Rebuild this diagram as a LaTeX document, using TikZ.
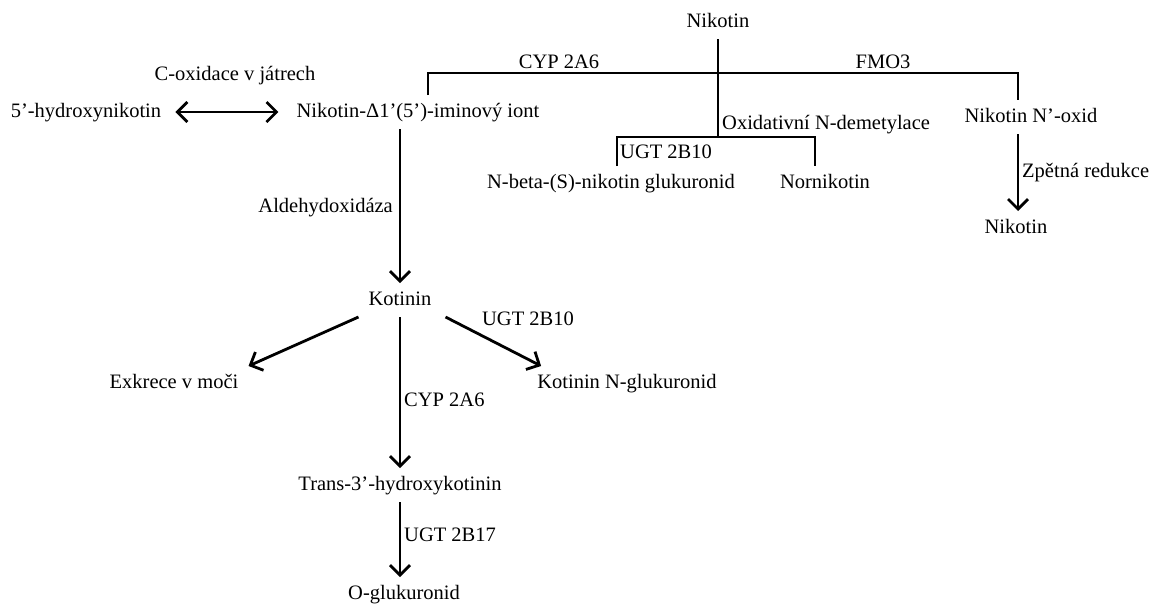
\documentclass[tikz,border=0pt]{standalone}
\usepackage{fontspec}
\setmainfont{Liberation Serif}
\usetikzlibrary{arrows.meta}
\tikzset{
  met node/.style={
    inner sep=2pt,text height=14pt,text depth=4pt,outer ysep=6pt,
    font=\fontsize{20.5}{24}\selectfont
  },
  met label/.style={inner sep=1pt,font=\fontsize{20.5}{24}\selectfont},
  met line/.style={black,line width=2.8pt},
  met arrow/.style={met line,-{Straight Barb[length=10pt,width=20pt]}},
  met both/.style={met line,{Straight Barb[length=10pt,width=20pt]}-{Straight Barb[length=10pt,width=20pt]}}
}

\begin{document}
\begin{tikzpicture}[x=1pt,y=-1pt]
  \useasboundingbox (0,0) rectangle (1165,606);
  % nikotin and its three routes
  \node[met node] (nik) at (718,22) {Nikotin};
  \coordinate (cypcorner) at (428,73);
  \coordinate (fmocorner) at (1018,73);
  \coordinate (demfork) at (718,137);
  \coordinate (glucorner) at (617,137);
  \coordinate (norcorner) at (815,137);
  \node[met label] (cyplab) at (559,62) {CYP 2A6};
  \node[met label] (fmolab) at (883,62) {FMO3};

  \node[met node] (hyd) at (86,112) {5’-hydroxynikotin};
  \node[met node] (imin) at (418,112) {Nikotin-Δ1’(5’)-iminový iont};
  \node[met label] (coxlab) at (235,76) {C-oxidace v játrech};

  \node[met label,anchor=west] (demlab) at (721,125) {Oxidativní N-demetylace};
  \node[met label,anchor=west] (ugtlab) at (619,152) {UGT 2B10};
  \node[met node] (glu) at (611,183) {N-beta-(S)-nikotin glukuronid};
  \node[met node] (nor) at (825,183) {Nornikotin};

  \node[met node] (oxid) at (1031,117) {Nikotin N’-oxid};
  \node[met label,anchor=west] (redlab) at (1021,173) {Zpětná redukce};
  \node[met node] (nik2) at (1016,228) {Nikotin};

  % kotinin branch
  \node[met label,anchor=east] (aldlab) at (394,208) {Aldehydoxidáza};
  \node[met node] (kot) at (400,300) {Kotinin};
  \node[met node] (exk) at (174,383) {Exkrece v moči};
  \node[met node] (kng) at (627,383) {Kotinin N-glukuronid};
  \node[met label] (ugtlab2) at (528,319) {UGT 2B10};
  \node[met label,anchor=west] (cyplab2) at (403,400) {CYP 2A6};
  \node[met node] (trans) at (400,485) {Trans-3’-hydroxykotinin};
  \node[met label,anchor=west] (ugtlab3) at (403,535) {UGT 2B17};
  \node[met node] (oglu) at (404,594) {O-glukuronid};

  \draw[met line] (nik) -- (demfork);
  \draw[met line] (imin.north -| cypcorner) -- (cypcorner) -- (fmocorner)
    -- (oxid.north -| fmocorner);
  \draw[met line] (glu.north -| glucorner) -- (glucorner) -- (norcorner)
    -- (nor.north -| norcorner);
  \draw[met both,shorten <=12pt,shorten >=16pt] (hyd) -- (imin);
  \draw[met arrow] (oxid.south -| fmocorner) -- (nik2.north -| fmocorner);
  \draw[met arrow] (imin.south -| kot.north) -- (kot.north);
  \draw[met arrow] ([xshift=-8pt]kot.south west) -- ([xshift=8pt]exk.north east);
  \draw[met arrow] ([xshift=12pt]kot.south east) -- ([xshift=6pt]kng.north west);
  \draw[met arrow] (kot) -- (trans);
  \draw[met arrow] (trans.south) -- (trans.south |- oglu.north);
\end{tikzpicture}
\end{document}
